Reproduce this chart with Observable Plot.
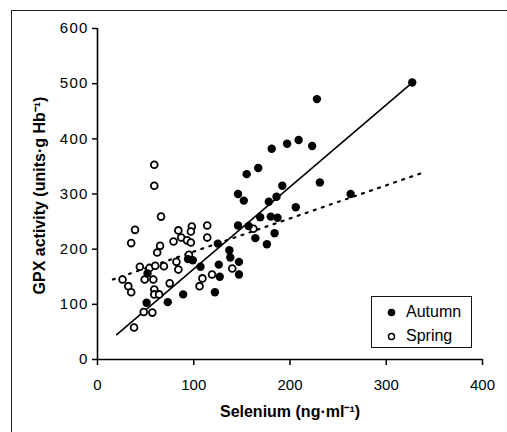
<!DOCTYPE html>
<html>
<head>
<meta charset="utf-8">
<script src="https://cdn.jsdelivr.net/npm/d3@7"></script>
<script src="https://cdn.jsdelivr.net/npm/@observablehq/plot@0.6"></script>
<style>
  html, body { margin: 0; padding: 0; background: #fff; }
  #wrap { position: relative; width: 507px; height: 432px; overflow: hidden; font-family: "Liberation Sans", Arial, Helvetica, sans-serif; }
  #border { position: absolute; left: 11px; top: 10px; right: -5px; bottom: -5px; border-top: 1.5px solid #222; border-left: 1.5px solid #222; }
  #chart { position: absolute; left: 0; top: 0; }
  #legend { position: absolute; left: 371px; top: 296px; width: 99px; height: 50px; border: 1.5px solid #111; background: #fff; }
  .row { position: absolute; left: 0; height: 20px; display: flex; align-items: center; font-size: 16px; color: #000; }
  .row svg { margin-left: 15px; margin-right: 10px; }
  .ytick text { letter-spacing: 1.2px; }
</style>
</head>
<body>
<div id="wrap">
  <div id="border"></div>
  <div id="chart"></div>
  <div id="legend"></div>
</div>
<script>
// ---- data ----
const seasons = ["Autumn", "Spring"];

const autumnSelenium = [327, 228, 263, 231, 223, 209, 197, 181, 167, 155, 146, 152, 192, 186, 178, 206, 169, 180, 187, 146, 157, 164, 184, 176, 125, 137, 138, 147, 147, 126, 127, 122, 107, 99, 94, 89, 73, 51, 52];
const autumnGPX      = [502, 472, 300, 321, 387, 398, 391, 382, 347, 336, 300, 288, 315, 295, 286, 276, 258, 259, 257, 243, 242, 220, 229, 209, 210, 198, 185, 177, 154, 172, 150, 122, 168, 180, 182, 118, 104, 103, 156];

const springSelenium = [59, 59, 66, 39, 35, 62, 65, 26, 32, 35, 44, 54, 49, 58, 60, 69, 59, 59, 64, 48, 57, 38, 75, 79, 84, 87, 93, 98, 97, 97, 82, 84, 95, 114, 114, 109, 106, 119, 140, 162];
const springGPX      = [353, 315, 259, 235, 211, 194, 206, 145, 133, 122, 168, 166, 145, 145, 170, 169, 127, 118, 118, 86, 85, 58, 138, 214, 234, 221, 216, 241, 232, 212, 177, 163, 190, 243, 221, 147, 133, 154, 165, 237];

// regression lines (end points)
const autumnLineSelenium = [20, 327];
const autumnLineGPX      = [45, 502];
const springLineSelenium = [16, 337];
const springLineGPX      = [145, 338];

const xTicks = [0, 100, 200, 300, 400];
const yTicks = [0, 100, 200, 300, 400, 500, 600];
const xLabel = "Selenium (ng\u00B7ml\u207B\u00B9)";
const yLabel = "GPX activity (units\u00B7g Hb\u207B\u00B9)";

// ---- build tables ----
const autumn = autumnSelenium.map((s, i) => ({se: s, gpx: autumnGPX[i]}));
const spring = springSelenium.map((s, i) => ({se: s, gpx: springGPX[i]}));
const autumnLine = autumnLineSelenium.map((s, i) => ({se: s, gpx: autumnLineGPX[i]}));
const springLine = springLineSelenium.map((s, i) => ({se: s, gpx: springLineGPX[i]}));

const chart = Plot.plot({
  width: 507,
  height: 432,
  marginLeft: 97,
  marginRight: 25,
  marginTop: 28,
  marginBottom: 73,
  style: {fontFamily: "'Liberation Sans', Arial, Helvetica, sans-serif", background: "transparent", color: "#000", overflow: "visible"},
  x: {domain: [0, 400]},
  y: {domain: [0, 600]},
  marks: [
    Plot.axisX({ticks: xTicks, tickSize: 6, tickPadding: 14, fontSize: 15, label: null, strokeWidth: 1.5}),
    Plot.axisY({ticks: yTicks, tickSize: 5, tickPadding: 4, fontSize: 15, label: null, strokeWidth: 1.5, className: "ytick"}),
    Plot.ruleX([0], {stroke: "#000", strokeWidth: 1.6}),
    Plot.ruleY([0], {stroke: "#000", strokeWidth: 1.6}),
    Plot.line(autumnLine, {x: "se", y: "gpx", stroke: "#000", strokeWidth: 1.6}),
    Plot.line(springLine, {x: "se", y: "gpx", stroke: "#000", strokeWidth: 2.2, strokeDasharray: "2 6.5"}),
    Plot.dot(spring, {x: "se", y: "gpx", r: 3.4, fill: "#fff", stroke: "#000", strokeWidth: 1.8}),
    Plot.dot(autumn, {x: "se", y: "gpx", r: 4.2, fill: "#000", stroke: "none"}),
    Plot.text([xLabel], {text: d => d, frameAnchor: "bottom", textAnchor: "middle", dy: 57, fontSize: 16, fontWeight: "bold", fill: "#000"}),
    Plot.text([yLabel], {text: d => d, frameAnchor: "left", textAnchor: "middle", rotate: -90, dx: -58, dy: 1.5, fontSize: 16, fontWeight: "bold", fill: "#000"})
  ]
});
document.getElementById("chart").appendChild(chart);

// ---- legend ----
const legend = document.getElementById("legend");
seasons.forEach((name, i) => {
  const row = document.createElement("div");
  row.className = "row";
  row.style.top = (i === 0 ? 5 : 29) + "px";
  const filled = i === 0;
  row.innerHTML = `<svg width="9" height="9" viewBox="-4.5 -4.5 9 9"><circle r="${filled ? 3.8 : 3}" fill="${filled ? "#000" : "#fff"}" stroke="${filled ? "none" : "#000"}" stroke-width="1.5"></circle></svg><span>${name}</span>`;
  legend.appendChild(row);
});
</script>
</body>
</html>
